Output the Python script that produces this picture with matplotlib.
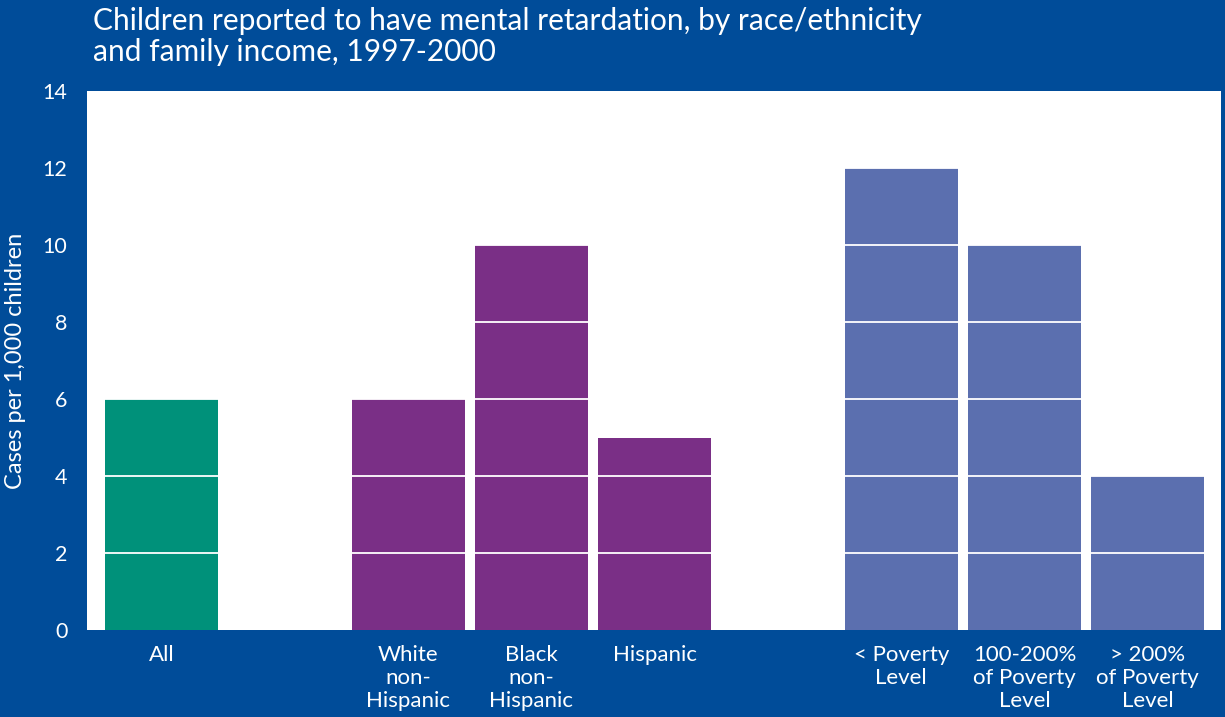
import matplotlib
matplotlib.use('Agg')
import matplotlib.pyplot as plt

# data
categories = ['All', 'White\nnon-\nHispanic', 'Black\nnon-\nHispanic', 'Hispanic',
              '< Poverty\nLevel', '100-200%\nof Poverty\nLevel', '> 200%\nof Poverty\nLevel']
positions = [0, 2, 3, 4, 6, 7, 8]
values = [6, 6, 10, 5, 12, 10, 4]
groups = ['all', 'race', 'race', 'race', 'income', 'income', 'income']

BG = '#004C99'
colors = {'all': '#00917A', 'race': '#7A2F86', 'income': '#5B6FAF'}

plt.rcParams['font.family'] = ['Lato', 'DejaVu Sans']

fig = plt.figure(figsize=(12.25, 7.17), dpi=100, facecolor=BG)
ax = fig.add_axes([0.071, 0.1213, 0.9257, 0.7518])
ax.set_facecolor('white')

ax.bar(positions, values, width=0.917, color=[colors[g] for g in groups], zorder=2)

ax.set_xlim(-0.604, 8.593)
ax.set_ylim(0, 14)
ax.set_yticks(range(0, 15, 2))
# white grid lines: only show up over the bars
for y in range(2, 14, 2):
    ax.axhline(y, color='white', lw=1.3, zorder=3)

ax.set_xticks(positions)
ax.set_xticklabels(categories, color='white', fontsize=16, linespacing=1.17)
ax.tick_params(axis='x', length=0, pad=11)
ax.tick_params(axis='y', length=0, pad=14, labelcolor='white', labelsize=15.5)
for s in ax.spines.values():
    s.set_visible(False)

ax.set_ylabel('Cases per 1,000 children', color='white', fontsize=17, labelpad=12)

fig.text(0.076, 0.99, 'Children reported to have mental retardation, by race/ethnicity\n'
         'and family income, 1997-2000', color='white', fontsize=21.5,
         ha='left', va='top', linespacing=1.12)

plt.savefig('out.png', dpi=100, facecolor=BG)
